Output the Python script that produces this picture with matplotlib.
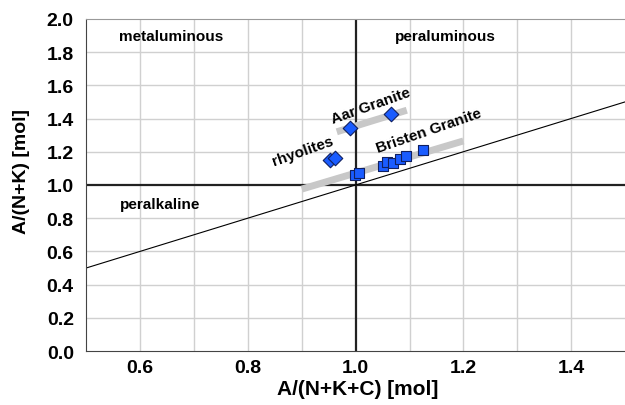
import matplotlib.pyplot as plt

plt.rcParams['font.family'] = ['Liberation Sans', 'DejaVu Sans']
plt.rcParams['font.weight'] = 'bold'

# data
aar_x = [0.990, 1.065]
aar_y = [1.343, 1.430]
rhy_x = [0.952, 0.961]
rhy_y = [1.150, 1.163]
bristen_x = [0.998, 1.006, 1.050, 1.059, 1.070, 1.082, 1.094, 1.125]
bristen_y = [1.060, 1.072, 1.113, 1.137, 1.131, 1.159, 1.177, 1.209]

aar_trend_x = [0.965, 1.095]
aar_trend_y = [1.32, 1.45]
bristen_trend_x = [0.90, 1.20]
bristen_trend_y = [0.975, 1.265]

xticks = [0.6, 0.8, 1.0, 1.2, 1.4]
yticks = [0.0, 0.2, 0.4, 0.6, 0.8, 1.0, 1.2, 1.4, 1.6, 1.8, 2.0]

fig = plt.figure(figsize=(6.25, 4.06), dpi=100)
ax = fig.add_axes([0.138, 0.133, 0.862, 0.818])
ax.set_xlim(0.5, 1.5)
ax.set_ylim(0, 2.0)

# grid
for gx in [0.6, 0.7, 0.8, 0.9, 1.1, 1.2, 1.3, 1.4]:
    ax.axvline(gx, color='#d0d0d0', lw=1, zorder=0)
for gy in [0.2, 0.4, 0.6, 0.8, 1.2, 1.4, 1.6, 1.8]:
    ax.axhline(gy, color='#d0d0d0', lw=1, zorder=0)

ax.axvline(1.0, color='#222222', lw=1.6, zorder=1)
ax.axhline(1.0, color='#222222', lw=1.6, zorder=1)
ax.plot([0.5, 1.5], [0.5, 1.5], color='black', lw=0.8, zorder=1)

ax.plot(aar_trend_x, aar_trend_y, color='#c8c8c8', lw=5, solid_capstyle='butt', zorder=2)
ax.plot(bristen_trend_x, bristen_trend_y, color='#c8c8c8', lw=5, solid_capstyle='butt', zorder=2)

ax.scatter(aar_x, aar_y, marker='D', s=55, color='#1a5cff', edgecolors='#102060', lw=0.8, zorder=3)
ax.scatter(rhy_x, rhy_y, marker='D', s=55, color='#1a5cff', edgecolors='#102060', lw=0.8, zorder=3)
ax.scatter(bristen_x, bristen_y, marker='s', s=60, color='#1a5cff', edgecolors='#102060', lw=0.8, zorder=3)

ax.text(0.561, 1.898, 'metaluminous', fontsize=11, fontweight='bold', va='center')
ax.text(1.073, 1.898, 'peraluminous', fontsize=11, fontweight='bold', va='center')
ax.text(0.563, 0.886, 'peralkaline', fontsize=11, fontweight='bold', va='center')
ax.text(0.958, 1.373, 'Aar Granite', fontsize=11, fontweight='bold', rotation=19.5,
        rotation_mode='anchor', ha='left', va='baseline')
ax.text(0.848, 1.12, 'rhyolites', fontsize=11, fontweight='bold', rotation=19.5,
        rotation_mode='anchor', ha='left', va='baseline')
ax.text(1.042, 1.197, 'Bristen Granite', fontsize=11, fontweight='bold', rotation=19,
        rotation_mode='anchor', ha='left', va='baseline')

ax.set_xticks(xticks)
ax.set_xticklabels(['%.1f' % v for v in xticks])
ax.set_yticks(yticks)
ax.set_yticklabels(['%.1f' % v for v in yticks])
ax.tick_params(length=0, labelsize=14)
ax.tick_params(axis='x', pad=6)
ax.tick_params(axis='y', pad=9)
for lab in ax.get_xticklabels() + ax.get_yticklabels():
    lab.set_fontweight('bold')

ax.spines['right'].set_visible(False)
ax.spines['top'].set_color('#999999')
ax.spines['left'].set_color('#444444')
ax.spines['bottom'].set_color('#444444')

ax.set_xlabel('A/(N+K+C) [mol]', fontsize=15, fontweight='bold')
ax.set_ylabel('A/(N+K) [mol]', fontsize=14, fontweight='bold')
ax.xaxis.set_label_coords(0.503, -0.084)
ax.yaxis.set_label_coords(-0.104, 0.542)

fig.savefig('out.png', dpi=100)
